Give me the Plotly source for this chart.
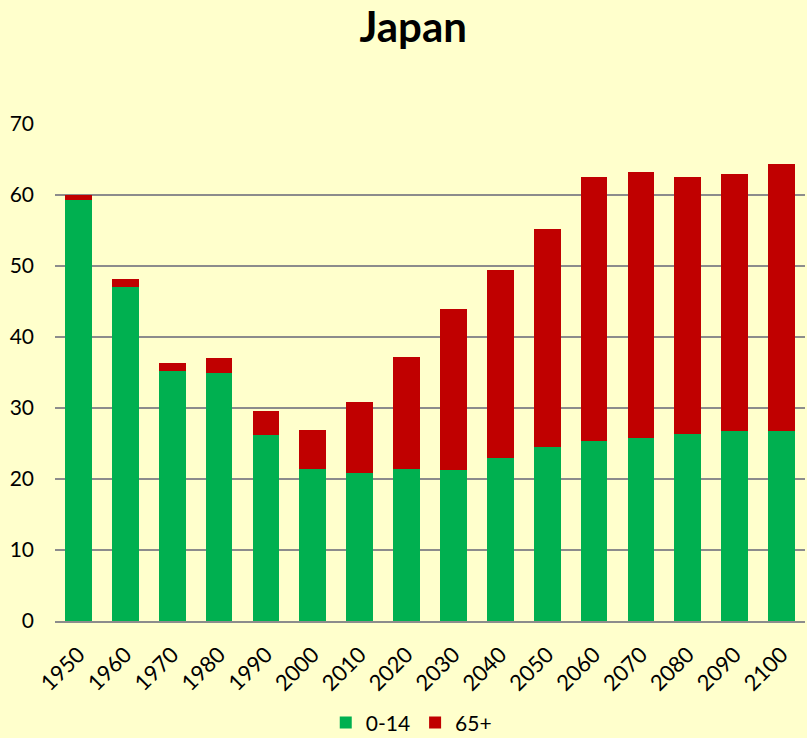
import plotly.graph_objects as go

years = ["1950", "1960", "1970", "1980", "1990", "2000", "2010", "2020",
         "2030", "2040", "2050", "2060", "2070", "2080", "2090", "2100"]
young = [59.3, 47.1, 35.2, 35.0, 26.2, 21.4, 20.8, 21.4,
         21.3, 22.9, 24.5, 25.3, 25.8, 26.4, 26.7, 26.75]
old = [0.7, 1.1, 1.2, 2.0, 3.4, 5.5, 10.0, 15.8,
       22.7, 26.5, 30.7, 37.2, 37.5, 36.2, 36.3, 37.55]
y_ticks = [0, 10, 20, 30, 40, 50, 60, 70]

FONT = "Lato"
BG = "#FFFFCC"

fig = go.Figure()
fig.add_trace(go.Bar(x=years, y=young, name="0-14", marker_color="#00B050",
                     marker_line_width=0))
fig.add_trace(go.Bar(x=years, y=old, name="65+", marker_color="#C00000",
                     marker_line_width=0))

fig.update_layout(
    barmode="stack",
    bargap=0.43,
    width=807, height=738,
    paper_bgcolor=BG, plot_bgcolor=BG,
    margin=dict(l=55, r=2, t=124, b=117, autoexpand=False),
    font=dict(family=FONT, size=20, color="#000000"),
    title=dict(text="<b>Japan</b>", x=0.512, xanchor="center", y=0.963, yanchor="middle",
               font=dict(family=FONT, size=42, color="#000000")),
    legend=dict(orientation="h", x=0.475, xanchor="center", y=-0.205, yanchor="middle",
                font=dict(family=FONT, size=21), bgcolor="rgba(0,0,0,0)",
                itemwidth=30, traceorder="normal"),
    showlegend=True,
)
fig.update_yaxes(range=[0, 70], tickvals=y_ticks, showgrid=True,
                 gridcolor="#8C8C8C", gridwidth=2, zeroline=False,
                 showline=False, ticks="", ticklabelstandoff=20,
                 automargin=False,
                 tickfont=dict(family=FONT, size=21))
fig.update_xaxes(tickangle=-45, showgrid=False, showline=True,
                 linecolor="#8C8C8C", linewidth=2, ticks="",
                 ticklabelstandoff=10, automargin=False,
                 tickfont=dict(family=FONT, size=22))

fig.write_html("out.html", config={"displayModeBar": False},
               post_script="document.body.style.margin='0';")
